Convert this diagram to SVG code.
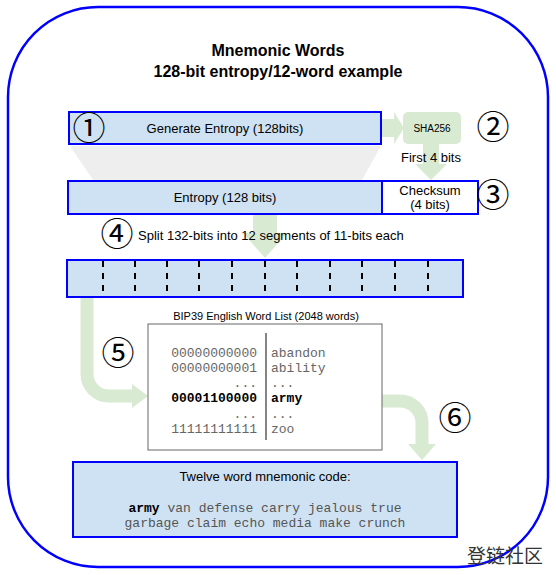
<svg xmlns="http://www.w3.org/2000/svg" width="556" height="575" viewBox="0 0 556 575">
<style>
.box{fill:#cfe2f3;stroke:#0000ff;stroke-width:2}
.wbox{fill:#ffffff;stroke:#0000ff;stroke-width:2}
.t{font-family:"Liberation Sans",Arial,sans-serif;font-size:13px;fill:#000}
.m{font-family:"Liberation Mono","Courier New",monospace;font-size:13px;fill:#666}
.mb{font-family:"Liberation Mono","Courier New",monospace;font-size:13px;fill:#000;font-weight:bold}
.num{font-family:"Noto Sans CJK SC","DejaVu Sans",sans-serif;font-size:33px;fill:#000}
.g{fill:#d9ead3}
.gs{fill:none;stroke:#d9ead3;stroke-width:13}
.dash{stroke:#000;stroke-width:2;stroke-dasharray:6 6}
</style>
<rect x="8" y="7" width="540" height="560" rx="90" ry="90" fill="#fff" stroke="#0000ff" stroke-width="2.5"/>
<g id="title">
<text x="278" y="56" text-anchor="middle" style="font-family:'Liberation Sans',Arial,sans-serif;font-size:16px;font-weight:bold">Mnemonic Words</text>
<text x="278" y="77" text-anchor="middle" style="font-family:'Liberation Sans',Arial,sans-serif;font-size:16px;font-weight:bold">128-bit entropy/12-word example</text>
</g>
<g id="connectors">
<polygon points="70,146 381,146 362,180 93,180" fill="#eeeeee"/>
<rect x="382" y="119" width="13" height="18" class="g"/>
<polygon points="394,112 404,128 394,144" class="g"/>
<rect x="423" y="144" width="16" height="21" class="g"/>
<polygon points="415,164 447,164 431,180" class="g"/>
<rect x="253" y="214" width="24" height="20" class="g"/>
<polygon points="243,233 287,233 265,258" class="g"/>
<path d="M87,297 V374 A22,22 0 0 0 109,396 H134" class="gs"/>
<polygon points="132,384 148,396 132,408" class="g"/>
<path d="M382,401 H400 A22,22 0 0 1 422,423 V445" class="gs"/>
<polygon points="408,444 436,444 422,460" class="g"/>
</g>
<g id="generate">
<rect x="69" y="112" width="312" height="32" class="box"/>
<text x="225" y="133" text-anchor="middle" class="t">Generate Entropy (128bits)</text>
<text x="89" y="140" text-anchor="middle" class="num">①</text>
</g>
<g id="sha256">
<rect x="403" y="112" width="58" height="32" rx="5" class="g"/>
<text x="432" y="132" text-anchor="middle" class="t" style="font-size:10px">SHA256</text>
<text x="431" y="162" text-anchor="middle" class="t">First 4 bits</text>
<text x="493" y="139" text-anchor="middle" class="num">②</text>
</g>
<g id="entropy">
<rect x="68" y="181" width="314" height="33" class="box"/>
<text x="225" y="202" text-anchor="middle" class="t">Entropy (128 bits)</text>
</g>
<g id="checksum">
<rect x="382" y="181" width="96" height="33" class="wbox"/>
<text x="430" y="195" text-anchor="middle" class="t">Checksum</text>
<text x="430" y="209" text-anchor="middle" class="t">(4 bits)</text>
<text x="493" y="207" text-anchor="middle" class="num">③</text>
</g>
<g id="split">
<text x="117" y="246" text-anchor="middle" class="num">④</text>
<text x="138" y="240" class="t">Split 132-bits into 12 segments of 11-bits each</text>
</g>
<g id="segments">
<rect x="67" y="260" width="396" height="37" class="box"/>
<line x1="103" y1="261" x2="103" y2="296" class="dash"/>
<line x1="135" y1="261" x2="135" y2="296" class="dash"/>
<line x1="167" y1="261" x2="167" y2="296" class="dash"/>
<line x1="199" y1="261" x2="199" y2="296" class="dash"/>
<line x1="232" y1="261" x2="232" y2="296" class="dash"/>
<line x1="265" y1="261" x2="265" y2="296" class="dash"/>
<line x1="297" y1="261" x2="297" y2="296" class="dash"/>
<line x1="330" y1="261" x2="330" y2="296" class="dash"/>
<line x1="362" y1="261" x2="362" y2="296" class="dash"/>
<line x1="395" y1="261" x2="395" y2="296" class="dash"/>
<line x1="428" y1="261" x2="428" y2="296" class="dash"/>
</g>
<g id="wordlist">
<text x="266" y="320" text-anchor="middle" class="t" style="font-size:11px">BIP39 English Word List (2048 words)</text>
<rect x="148" y="324" width="234" height="126" fill="#fff" stroke="#666" stroke-width="1"/>
<line x1="266" y1="333" x2="266" y2="440" stroke="#333" stroke-width="1.2"/>
<text x="257" y="357" text-anchor="end" class="m">00000000000</text>
<text x="271" y="357" class="m">abandon</text>
<text x="257" y="372" text-anchor="end" class="m">00000000001</text>
<text x="271" y="372" class="m">ability</text>
<text x="257" y="387" text-anchor="end" class="m">...</text>
<text x="271" y="387" class="m">...</text>
<text x="257" y="402" text-anchor="end" class="mb">00001100000</text>
<text x="271" y="402" class="mb">army</text>
<text x="257" y="418" text-anchor="end" class="m">...</text>
<text x="271" y="418" class="m">...</text>
<text x="257" y="433" text-anchor="end" class="m">11111111111</text>
<text x="271" y="433" class="m">zoo</text>
<text x="118" y="365" text-anchor="middle" class="num">⑤</text>
<text x="455" y="430" text-anchor="middle" class="num">⑥</text>
</g>
<g id="mnemonic">
<rect x="73" y="462" width="384" height="75" class="box"/>
<text x="265" y="481" text-anchor="middle" class="t">Twelve word mnemonic code:</text>
<text x="265" y="512" text-anchor="middle" class="m" style="fill:#555"><tspan class="mb">army</tspan> van defense carry jealous true</text>
<text x="265" y="527" text-anchor="middle" class="m" style="fill:#555">garbage claim echo media make crunch</text>
</g>
<text x="505" y="563" text-anchor="middle" style="font-family:'Noto Sans CJK SC',sans-serif;font-size:19px;fill:#333">登链社区</text>
</svg>
